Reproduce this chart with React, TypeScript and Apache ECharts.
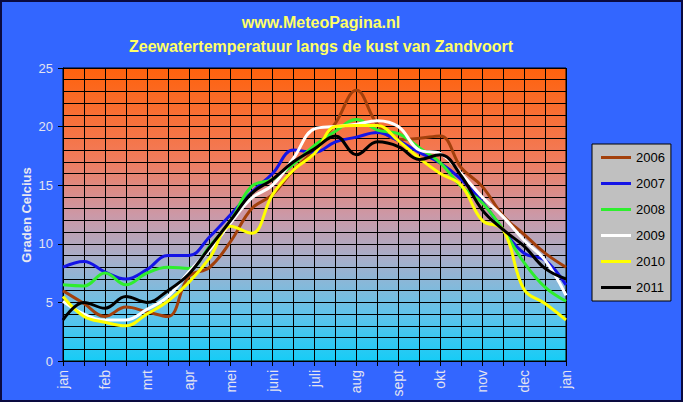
import React, { useEffect, useRef } from "react";
import * as echarts from "echarts";

const monthLabels = ["jan", "feb", "mrt", "apr", "mei", "juni", "juli", "aug", "sept", "okt", "nov", "dec", "jan"];
const years = ["2006", "2007", "2008", "2009", "2010", "2011"];
const lineColors = ["#A3400C", "#1414E6", "#2EEE2E", "#FFFFFF", "#FFFF00", "#000000"];
const yAxisTitle = "Graden Celcius";

// half-monthly values (1st and 15th of each month), jan 1 .. jan 1 next year
const t2006 = [6.0, 4.9, 3.8, 4.6, 4.2, 3.8, 7.2, 8.0, 10.2, 13.0, 14.2, 16.3, 18.0, 20.3, 23.1, 20.2, 18.9, 19.0, 19.2, 16.5, 14.9, 12.4, 10.8, 9.2, 8.0];
const t2007 = [8.0, 8.5, 7.6, 7.0, 7.8, 9.0, 9.0, 10.6, 12.5, 14.4, 16.0, 18.0, 17.8, 18.7, 19.1, 19.5, 18.8, 17.8, 16.9, 15.5, 13.6, 11.2, 9.2, 8.6, 6.5];
const t2008 = [6.5, 6.4, 7.5, 6.5, 7.5, 8.0, 7.9, 9.8, 12.0, 14.9, 15.5, 16.8, 18.4, 19.6, 20.6, 19.7, 19.4, 18.2, 16.9, 14.9, 13.5, 11.2, 8.4, 6.3, 5.1];
const t2009 = [5.1, 4.0, 3.5, 3.5, 4.4, 5.5, 7.6, 9.5, 11.8, 13.9, 15.0, 17.3, 19.8, 20.0, 20.2, 20.5, 20.0, 18.0, 17.7, 16.0, 14.0, 12.3, 10.3, 8.6, 5.6];
const t2010 = [5.5, 3.8, 3.3, 3.0, 4.0, 5.1, 6.7, 8.8, 11.5, 10.9, 14.2, 16.3, 17.7, 20.0, 20.1, 20.1, 18.8, 17.3, 16.0, 15.0, 12.0, 11.2, 6.1, 4.9, 3.5];
const t2011 = [3.5, 5.0, 4.5, 5.5, 5.0, 6.0, 7.4, 9.7, 12.0, 14.3, 15.5, 17.0, 18.1, 19.2, 17.6, 18.7, 18.3, 17.2, 17.6, 15.8, 12.9, 11.2, 9.8, 7.9, 7.0];
const seriesValues = [t2006, t2007, t2008, t2009, t2010, t2011];

const FONT = "'Liberation Sans', Arial, sans-serif";

export default function App() {
  const ref = useRef<HTMLDivElement>(null);

  useEffect(() => {
    document.body.style.margin = "0";
    if (!ref.current) return;
    const chart = echarts.init(ref.current, null, { renderer: "svg" });
    const gradient = new echarts.graphic.LinearGradient(0, 0, 0, 1, [
      { offset: 0, color: "#FF620C" },
      { offset: 0.3, color: "#F27A58" },
      { offset: 0.5, color: "#CC98A6" },
      { offset: 0.66, color: "#A4B0CC" },
      { offset: 0.85, color: "#5CC4EC" },
      { offset: 1, color: "#16CCF6" },
    ]);
    chart.setOption({
      animation: false,
      backgroundColor: "#3366FF",
      title: [
        {
          text: "www.MeteoPagina.nl",
          left: 316,
          top: 9,
          textAlign: "center",
          textStyle: { color: "#FFFF66", fontSize: 16, fontWeight: "bold", fontFamily: FONT },
        },
        {
          text: "Zeewatertemperatuur langs de kust van Zandvoort",
          left: 316,
          top: 33,
          textAlign: "center",
          textStyle: { color: "#FFFF66", fontSize: 16, fontWeight: "bold", fontFamily: FONT },
        },
      ],
      graphic: [
        {
          type: "rect",
          shape: { x: 1, y: 1, width: 681, height: 400 },
          style: { fill: "none", stroke: "#0A0A40", lineWidth: 2 },
          silent: true,
          z: 100,
        },
        {
          type: "text",
          x: 26,
          y: 215,
          rotation: Math.PI / 2,
          style: {
            text: yAxisTitle,
            fill: "#E8E8F0",
            font: "bold 13px 'Liberation Sans', Arial, sans-serif",
            align: "center",
            verticalAlign: "middle",
          },
          silent: true,
        },
      ],
      legend: {
        orient: "vertical",
        left: 592,
        top: 144,
        padding: [7, 6, 7, 9],
        itemGap: 13,
        itemWidth: 30,
        itemHeight: 3,
        icon: "rect",
        backgroundColor: "#C0C0C0",
        borderColor: "#000000",
        borderWidth: 1,
        textStyle: { color: "#000000", fontSize: 13, fontFamily: FONT },
        data: years,
      },
      grid: {
        left: 63,
        top: 68,
        width: 503,
        height: 293,
        show: true,
        backgroundColor: gradient,
        borderColor: "#000000",
        borderWidth: 1,
      },
      xAxis: {
        type: "value",
        min: 0,
        max: 24,
        interval: 1,
        axisLine: { show: true, lineStyle: { color: "#000000", width: 1 } },
        axisTick: { show: true, length: 5, lineStyle: { color: "#000000" } },
        axisLabel: {
          rotate: 90,
          margin: 9,
          color: "#E4E4F0",
          fontSize: 14,
          fontFamily: FONT,
          formatter: (v: number) => (v % 2 === 0 ? monthLabels[v / 2] : ""),
        },
        splitLine: { show: true, lineStyle: { color: "#000000", width: 1 } },
      },
      yAxis: {
        type: "value",
        min: 0,
        max: 25,
        interval: 5,
        axisLine: { show: true, lineStyle: { color: "#000000", width: 1 } },
        axisTick: { show: true, length: 5, lineStyle: { color: "#000000" } },
        axisLabel: { color: "#E4E4F0", fontSize: 13, margin: 10, fontFamily: FONT },
        splitLine: { show: true, lineStyle: { color: "#000000", width: 1 } },
        minorTick: { show: false, splitNumber: 5 },
        minorSplitLine: { show: true, lineStyle: { color: "#000000", width: 1 } },
      },
      series: years.map((y, k) => ({
        name: y,
        type: "line",
        smooth: 0.4,
        symbol: "none",
        color: lineColors[k],
        lineStyle: { width: 3, color: lineColors[k] },
        data: seriesValues[k].map((v, i) => [i, v]),
      })),
    });
    return () => chart.dispose();
  }, []);

  return <div ref={ref} style={{ width: 683, height: 402 }} />;
}
